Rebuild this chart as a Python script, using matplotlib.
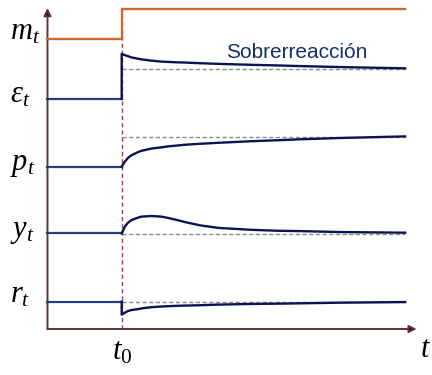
import matplotlib
matplotlib.use("Agg")
import matplotlib.pyplot as plt

plt.rcParams['mathtext.fontset'] = 'custom'
plt.rcParams['mathtext.it'] = 'Liberation Serif:italic'
plt.rcParams['mathtext.rm'] = 'Liberation Serif'
plt.rcParams['mathtext.bf'] = 'Liberation Serif:bold'

# ---------------- data ----------------
t_shock = 2.0          # t0
t_end = 9.64
t_pre = [0.0, 2.0]

# time samples after the shock
t_post = [2.0, 2.09, 2.17, 2.26, 2.44, 2.53, 2.80, 3.07, 3.25, 3.44,
          3.71, 4.11, 4.60, 5.49, 6.21, 6.81, 7.88, 9.64]

# money supply
m_before = 9.04
m_after = 9.97

# exchange rate (overshooting)
eps_before = 7.17
eps_long = 8.11
eps_post = [8.57, 8.53, 8.50, 8.46, 8.42, 8.40, 8.36, 8.33, 8.32, 8.31,
            8.30, 8.28, 8.26, 8.23, 8.21, 8.19, 8.16, 8.12]

# prices
p_before = 5.06
p_long = 5.99
p_post = [5.06, 5.22, 5.33, 5.41, 5.51, 5.55, 5.62, 5.66, 5.69, 5.71,
          5.74, 5.77, 5.80, 5.85, 5.88, 5.91, 5.95, 6.00]

# output
y_before = 2.98
y_long = 2.97
y_post = [2.98, 3.20, 3.31, 3.39, 3.47, 3.50, 3.52, 3.50, 3.46, 3.41,
          3.33, 3.23, 3.15, 3.09, 3.06, 3.05, 3.02, 3.00]

# interest rate
r_before = 0.85
r_long = 0.85
r_post = [0.45, 0.51, 0.56, 0.59, 0.62, 0.64, 0.68, 0.70, 0.71, 0.72,
          0.73, 0.74, 0.76, 0.78, 0.79, 0.80, 0.82, 0.84]

labels = [r'$m_t$', r'$\varepsilon_t$', r'$p_t$', r'$y_t$', r'$r_t$']
label_levels = [9.03, 7.07, 4.95, 2.87, 0.81]
annotation = 'Sobrerreacción'

# ---------------- styles ----------------
ORANGE = '#cd6a33'
NAVY = '#0b1352'
BLUE_PRE = '#213f7c'
AXIS = '#5b3434'
GREY = '#8a8a8a'
RED = '#a83a3a'

fig = plt.figure(figsize=(4.32, 3.75), dpi=100)
ax = fig.add_axes([0, 0, 1, 1])
ax.set_xlim(-1.28, 10.364)
ax.set_ylim(-1.433, 10.249)
ax.axis('off')

# axes with arrows
ax.annotate('', xy=(0, 10.0), xytext=(0, 0),
            arrowprops=dict(arrowstyle='-|>', color=AXIS, lw=1.4,
                            mutation_scale=11, shrinkA=0, shrinkB=0,
                            fc='#3a0808', ec=AXIS))
ax.annotate('', xy=(9.95, 0), xytext=(0, 0),
            arrowprops=dict(arrowstyle='-|>', color=AXIS, lw=1.4,
                            mutation_scale=11, shrinkA=0, shrinkB=0,
                            fc='#3a0808', ec=AXIS))

# t0 vertical dashed line
ax.plot([t_shock, t_shock], [0, 10.0], color=RED, lw=1.0,
        dashes=(3, 2.2), zorder=2)

# long run reference levels
for lvl in [eps_long, p_long, y_long, r_long]:
    ax.plot([t_shock, t_end], [lvl, lvl], color=GREY, lw=1.0,
            dashes=(3, 1.8), zorder=2)

# money
ax.plot([t_pre[0], t_shock, t_shock, t_end],
        [m_before, m_before, m_after, m_after],
        color=ORANGE, lw=1.7, zorder=4, solid_joinstyle='miter')

# pre-shock levels
for lvl in [eps_before, p_before, y_before, r_before]:
    ax.plot(t_pre, [lvl, lvl], color=BLUE_PRE, lw=1.6, zorder=4)

# post-shock paths
ax.plot([t_shock] + t_post, [eps_before] + eps_post, color=NAVY, lw=1.7,
        zorder=5, solid_joinstyle='round')
ax.plot(t_post, p_post, color=NAVY, lw=1.7, zorder=5,
        solid_joinstyle='round')
ax.plot(t_post, y_post, color=NAVY, lw=1.7, zorder=5,
        solid_joinstyle='round')
ax.plot([t_shock] + t_post, [r_before] + r_post, color=NAVY, lw=1.7,
        zorder=5, solid_joinstyle='round')

# labels
for lab, lvl in zip(labels, label_levels):
    ax.text(-1.0, lvl, lab, fontsize=22, ha='left', va='baseline',
            color='black')

ax.text(t_shock, -0.96, r'$t_0$', fontsize=22, ha='center', va='baseline')
ax.text(10.2, -0.87, r'$t$', fontsize=22, ha='center', va='baseline')

ax.text(4.81, 8.44, annotation, fontsize=15, family='Liberation Sans',
        color='#1b2d6e', ha='left', va='baseline')

fig.savefig('out.png', dpi=100)
